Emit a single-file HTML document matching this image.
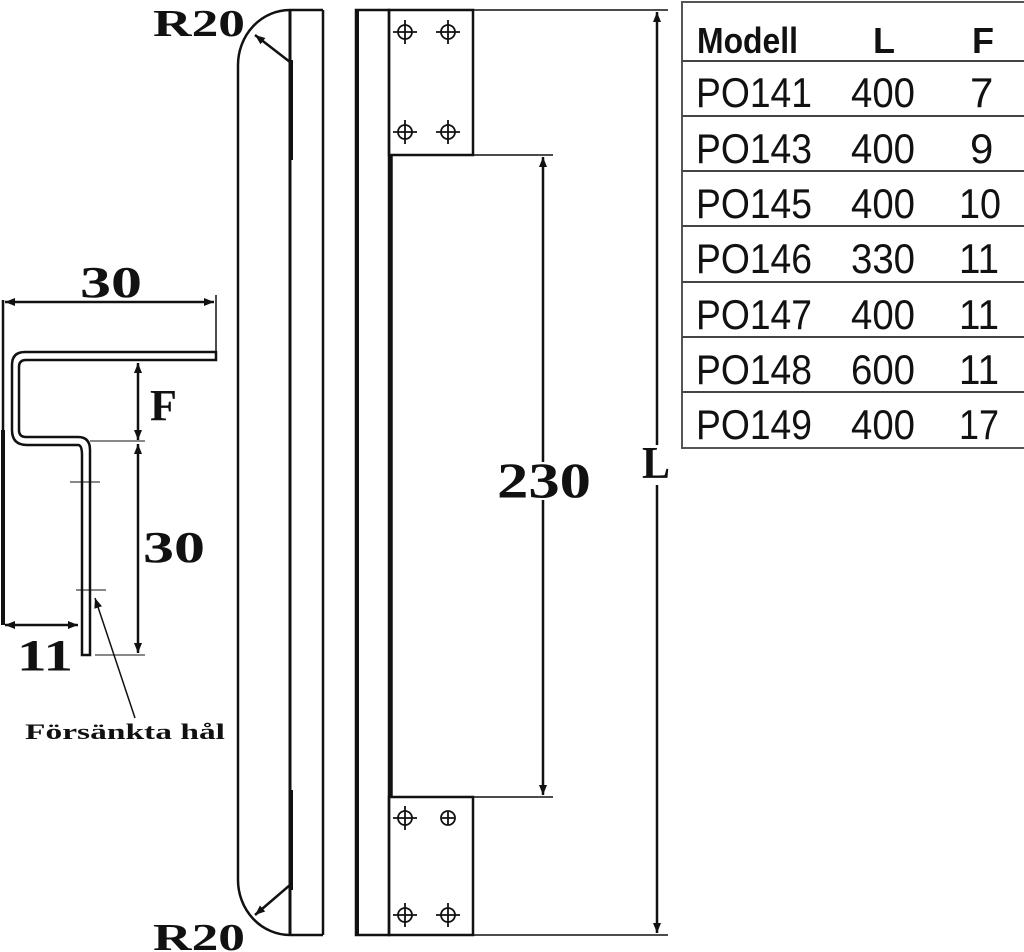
<!DOCTYPE html>
<html><head><meta charset="utf-8"><style>
html,body{margin:0;padding:0;background:#fff;}
svg{display:block;}
.s{font-family:"Liberation Serif",serif;font-weight:bold;fill:#111;}
.t{font-family:"Liberation Sans",sans-serif;fill:#111;}
</style></head><body>
<svg width="1024" height="952" viewBox="0 0 1024 952" xmlns="http://www.w3.org/2000/svg">
<defs>
<marker id="a" viewBox="0 0 10 10" refX="10" refY="5" markerWidth="16" markerHeight="10" markerUnits="userSpaceOnUse" orient="auto-start-reverse"><path d="M0,1 L10,5 L0,9 z" fill="#111"/></marker>
</defs>
<g stroke="#111" fill="none" stroke-width="2.5">
<path d="M290,10 A52,55 0 0 0 238,65 L238,880 A52,55 0 0 0 290,935" />
<line x1="290" y1="10" x2="323" y2="10"/>
<line x1="290" y1="935" x2="323" y2="935"/>
<line x1="323" y1="10" x2="323" y2="935"/>
<line x1="290" y1="10" x2="290" y2="935" stroke-width="3"/>
<line x1="291" y1="60" x2="291" y2="160" stroke-width="4"/>
<line x1="291" y1="790" x2="291" y2="890" stroke-width="4"/>
<line x1="290" y1="62" x2="255" y2="35" marker-end="url(#a)"/>
<line x1="290" y1="885" x2="255" y2="915" marker-end="url(#a)"/>
<rect x="356" y="10" width="33" height="925"/>
<line x1="357" y1="10" x2="357" y2="935" stroke-width="4"/>
<rect x="389" y="10" width="84" height="145"/>
<rect x="389" y="797" width="84" height="138"/>
<line x1="391" y1="155" x2="391" y2="797" stroke-width="3.5"/>
<g stroke-width="1.8">
<circle cx="405" cy="32" r="7"/><circle cx="448" cy="32" r="7"/>
<circle cx="405" cy="132" r="7"/><circle cx="448" cy="132" r="7"/>
<circle cx="405" cy="818" r="7"/><circle cx="448" cy="818" r="7"/>
<circle cx="405" cy="915" r="7"/><circle cx="448" cy="915" r="7"/>
<path d="M393,32h24M405,20v24M436,32h24M448,20v24M393,132h24M405,120v24M436,132h24M448,120v24M393,818h24M405,806v24M442,818h12M448,812v12M393,915h24M405,903v24M436,915h24M448,903v24"/>
</g>
<line x1="473" y1="10" x2="668" y2="10" stroke-width="1.5"/>
<line x1="473" y1="935" x2="668" y2="935" stroke-width="1.5"/>
<line x1="473" y1="155" x2="553" y2="155" stroke-width="1.5"/>
<line x1="473" y1="797" x2="553" y2="797" stroke-width="1.5"/>
<line x1="657" y1="445" x2="657" y2="12" marker-end="url(#a)"/>
<line x1="657" y1="485" x2="657" y2="933" marker-end="url(#a)"/>
<line x1="543" y1="462" x2="543" y2="157" marker-end="url(#a)"/>
<line x1="543" y1="500" x2="543" y2="795" marker-end="url(#a)"/>
<path d="M216,352 L25,352 Q12,352 12,365 L12,430 Q12,445 27,445 L78,445 Q82,445 82,455 L82,655 L90,655 L90,450 Q90,437 78,437 L26,437 Q19,437 19,430 L19,367 Q19,360 26,360 L216,360 Z"/>
<line x1="3" y1="300" x2="3" y2="625"/>
<line x1="3" y1="430" x2="3" y2="625" stroke-width="4"/>
<line x1="216" y1="295" x2="216" y2="352" stroke-width="1.5"/>
<line x1="5" y1="302" x2="214" y2="302" marker-start="url(#a)" marker-end="url(#a)"/>
<line x1="138" y1="363" x2="138" y2="440" marker-start="url(#a)" marker-end="url(#a)"/>
<line x1="138" y1="444" x2="138" y2="653" marker-start="url(#a)" marker-end="url(#a)"/>
<line x1="90" y1="441" x2="145" y2="441" stroke-width="1"/>
<line x1="95" y1="655" x2="145" y2="655" stroke-width="1"/>
<line x1="5" y1="625" x2="78" y2="625" marker-start="url(#a)" marker-end="url(#a)"/>
<path d="M70,482h30M76,590h30M82,470v10M82,520v10M82,570v10" stroke-width="1"/>
<line x1="135" y1="718" x2="95" y2="598" stroke-width="1.5" marker-end="url(#a)"/>
<rect x="682" y="2" width="345" height="446" stroke="#555" stroke-width="2"/>
<g stroke="#444" stroke-width="2">
<line x1="682" y1="61" x2="1024" y2="61"/><line x1="682" y1="116" x2="1024" y2="116"/>
<line x1="682" y1="171" x2="1024" y2="171"/><line x1="682" y1="226" x2="1024" y2="226"/>
<line x1="682" y1="282" x2="1024" y2="282"/><line x1="682" y1="337" x2="1024" y2="337"/>
<line x1="682" y1="392" x2="1024" y2="392"/>
</g>
</g>
<g class="s">
<text x="153" y="36" font-size="38" textLength="92" lengthAdjust="spacingAndGlyphs">R20</text>
<text x="153" y="950" font-size="38" textLength="92" lengthAdjust="spacingAndGlyphs">R20</text>
<text x="80" y="297" font-size="44" textLength="62" lengthAdjust="spacingAndGlyphs">30</text>
<text x="150" y="420" font-size="44">F</text>
<text x="143" y="562" font-size="44" textLength="62" lengthAdjust="spacingAndGlyphs">30</text>
<text x="17" y="670" font-size="44" textLength="56" lengthAdjust="spacingAndGlyphs">11</text>
<text x="25" y="739" font-size="22" textLength="200" lengthAdjust="spacingAndGlyphs">Försänkta hål</text>
<text x="497" y="497" font-size="50" textLength="94" lengthAdjust="spacingAndGlyphs">230</text>
<text x="642" y="478" font-size="46" textLength="28" lengthAdjust="spacingAndGlyphs">L</text>
</g>
<g class="t" font-size="42">
<g font-weight="bold" font-size="36">
<text x="697" y="53" textLength="101" lengthAdjust="spacingAndGlyphs">Modell</text>
<text x="873" y="53">L</text><text x="972" y="53">F</text>
</g>
<text x="696" y="107" textLength="116" lengthAdjust="spacingAndGlyphs">PO141</text><text x="851" y="107" textLength="64" lengthAdjust="spacingAndGlyphs">400</text><text x="970" y="107">7</text>
<text x="696" y="163" textLength="116" lengthAdjust="spacingAndGlyphs">PO143</text><text x="851" y="163" textLength="64" lengthAdjust="spacingAndGlyphs">400</text><text x="970" y="163">9</text>
<text x="696" y="218" textLength="116" lengthAdjust="spacingAndGlyphs">PO145</text><text x="851" y="218" textLength="64" lengthAdjust="spacingAndGlyphs">400</text><text x="959" y="218" textLength="42" lengthAdjust="spacingAndGlyphs">10</text>
<text x="696" y="273" textLength="116" lengthAdjust="spacingAndGlyphs">PO146</text><text x="851" y="273" textLength="64" lengthAdjust="spacingAndGlyphs">330</text><text x="959" y="273" textLength="40" lengthAdjust="spacingAndGlyphs">11</text>
<text x="696" y="329" textLength="116" lengthAdjust="spacingAndGlyphs">PO147</text><text x="851" y="329" textLength="64" lengthAdjust="spacingAndGlyphs">400</text><text x="959" y="329" textLength="40" lengthAdjust="spacingAndGlyphs">11</text>
<text x="696" y="384" textLength="116" lengthAdjust="spacingAndGlyphs">PO148</text><text x="851" y="384" textLength="64" lengthAdjust="spacingAndGlyphs">600</text><text x="959" y="384" textLength="40" lengthAdjust="spacingAndGlyphs">11</text>
<text x="696" y="439" textLength="116" lengthAdjust="spacingAndGlyphs">PO149</text><text x="851" y="439" textLength="64" lengthAdjust="spacingAndGlyphs">400</text><text x="959" y="439" textLength="40" lengthAdjust="spacingAndGlyphs">17</text>
</g>
</svg>
</body></html>
